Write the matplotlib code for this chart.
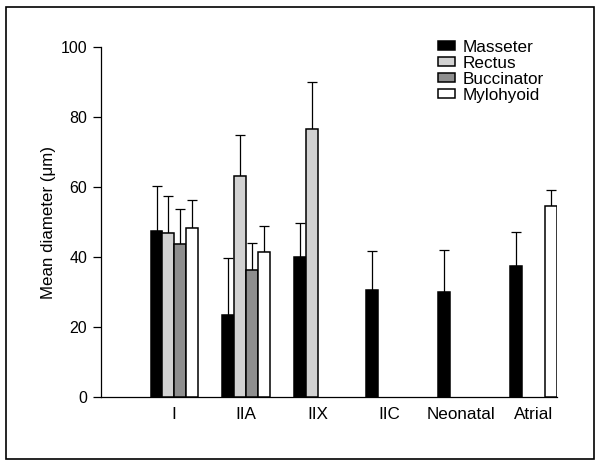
import numpy as np
import matplotlib
matplotlib.use("Agg")
import matplotlib.pyplot as plt
from matplotlib.patches import Rectangle

plt.rcParams['font.family'] = ['Liberation Sans', 'DejaVu Sans']

categories = ['I', 'IIA', 'IIX', 'IIC', 'Neonatal', 'Atrial']
series_names = ['Masseter', 'Rectus', 'Buccinator', 'Mylohyoid']

masseter = [47.3, 23.5, 40.0, 30.7, 29.9, 37.3]
masseter_err = [12.9, 16.2, 9.7, 11.0, 12.2, 9.9]
rectus = [46.8, 63.2, 76.5, None, None, None]
rectus_err = [10.5, 11.6, 13.5, None, None, None]
buccinator = [43.7, 36.4, None, None, None, None]
buccinator_err = [10.1, 7.7, None, None, None, None]
mylohyoid = [48.2, 41.3, None, None, None, 54.6]
mylohyoid_err = [8.2, 7.6, None, None, None, 4.6]

values = [masseter, rectus, buccinator, mylohyoid]
errors = [masseter_err, rectus_err, buccinator_err, mylohyoid_err]
colors = ['#000000', '#d2d2d2', '#8e8e8e', '#ffffff']

fig = plt.figure(figsize=(6.0, 4.69), dpi=100)
ax = fig.add_axes([0.1683, 0.1535, 0.76, 0.7463])

w = 0.164
x = np.arange(len(categories))
for i, (vals, errs, c, name) in enumerate(zip(values, errors, colors, series_names)):
    idx = [k for k, v in enumerate(vals) if v is not None]
    xs = x[idx] + (i - 1.5) * w
    hs = [vals[k] for k in idx]
    es = [errs[k] for k in idx]
    ax.bar(xs, hs, width=w, color=c, edgecolor='black', linewidth=1.1,
           label=name, zorder=3)
    ax.errorbar(xs, hs, yerr=[np.zeros(len(es)), es], fmt='none',
                ecolor='black', elinewidth=0.9, capsize=3.3, capthick=0.9,
                zorder=2)

ax.set_xlim(-1.02, 5.33)
ax.set_ylim(0, 100)
ax.set_yticks([0, 20, 40, 60, 80, 100])
ax.set_xticks(x)
ax.set_xticklabels(categories)
ax.tick_params(axis='x', length=0, pad=7, labelsize=12.3)
ax.tick_params(axis='y', length=6, width=0.9, pad=4, labelsize=11.5, direction='out')
for s in ['top', 'right']:
    ax.spines[s].set_visible(False)
for s in ['left', 'bottom']:
    ax.spines[s].set_linewidth(0.9)
ax.set_ylabel('Mean diameter (μm)', fontsize=12.2, labelpad=3)

leg = ax.legend(loc='upper left', bbox_to_anchor=(438 / 600, 1 - 40 / 469),
                bbox_transform=fig.transFigure, frameon=False, fontsize=12.3,
                handlelength=0.98, handleheight=0.42, handletextpad=0.46,
                labelspacing=0.05, borderpad=0, borderaxespad=0)

fig.patches.append(Rectangle((6 / 600, 1 - 459 / 469), 588 / 600, 452 / 469,
                             transform=fig.transFigure, fill=False,
                             edgecolor='black', linewidth=1.2))

fig.savefig('out.png', dpi=100)
